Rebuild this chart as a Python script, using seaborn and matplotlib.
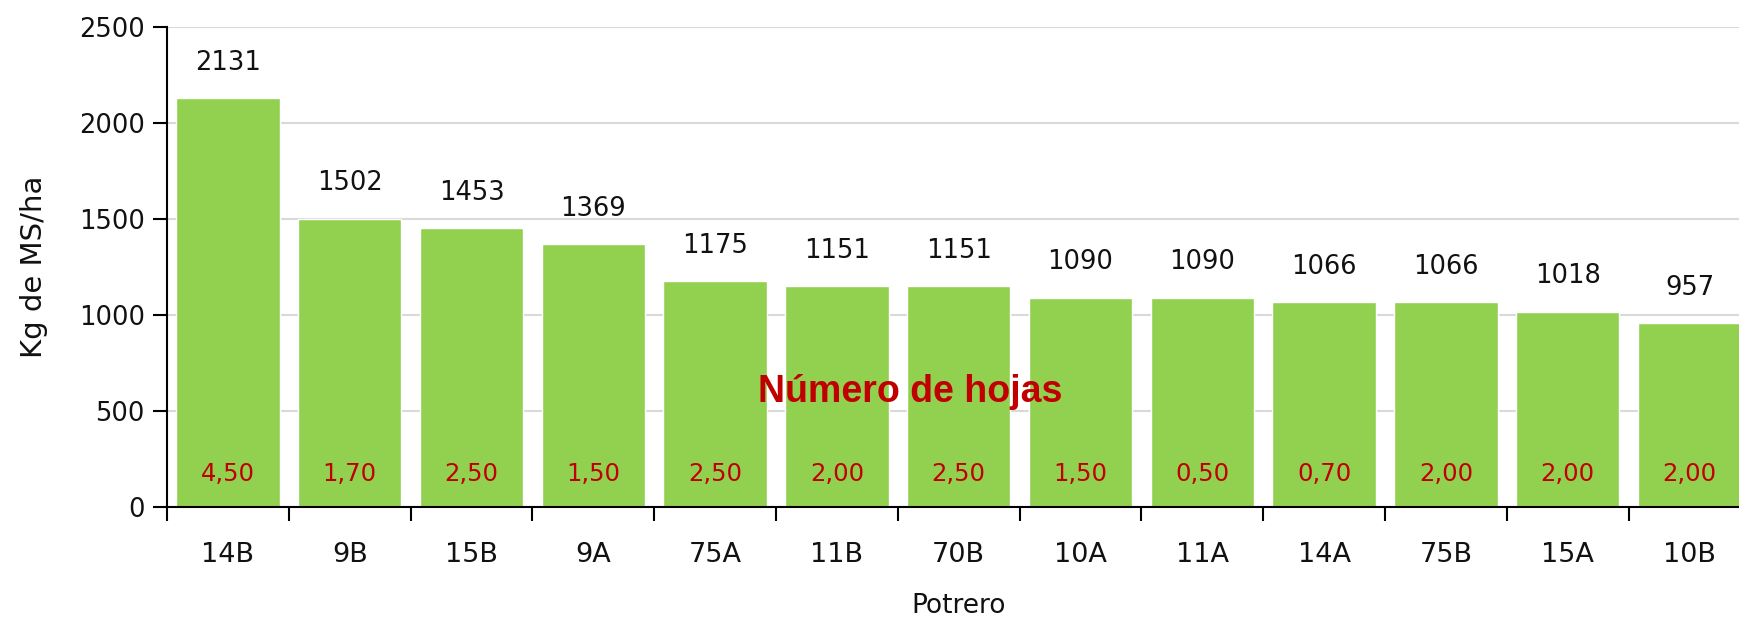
import numpy as np
import pandas as pd
import matplotlib
matplotlib.use("Agg")
import matplotlib.pyplot as plt
import seaborn as sns

potreros = ["14B", "9B", "15B", "9A", "75A", "11B", "70B", "10A", "11A", "14A", "75B", "15A", "10B"]
kg_ms = [2131, 1502, 1453, 1369, 1175, 1151, 1151, 1090, 1090, 1066, 1066, 1018, 957]
hojas = [4.50, 1.70, 2.50, 1.50, 2.50, 2.00, 2.50, 1.50, 0.50, 0.70, 2.00, 2.00, 2.00]

df = pd.DataFrame({"Potrero": potreros, "kg": kg_ms})

sns.set_theme(style="white")
plt.rcParams['font.family'] = ['DejaVu Sans']

fig = plt.figure(figsize=(17.39, 6.17), dpi=100)
ax = fig.add_axes([167 / 1739, 110 / 617, 13 * 121.8 / 1739, 480 / 617])

sns.barplot(data=df, x="Potrero", y="kg", color="#92D050", saturation=1, width=0.85, ax=ax, zorder=2)

ax.set_ylim(0, 2500)
ax.set_xlim(-0.5, len(potreros) - 0.5)
ax.set_yticks(np.arange(0, 2501, 500))
ax.yaxis.grid(True, color="#D9D9D9", linewidth=1.5, zorder=0)
ax.set_axisbelow(True)

for s in ["top", "right"]:
    ax.spines[s].set_visible(False)
for s in ["left", "bottom"]:
    ax.spines[s].set_color("black")
    ax.spines[s].set_linewidth(1.5)

# ticks en los bordes de categoría
ax.set_xticks(np.arange(len(potreros)) - 0.5, minor=True)
ax.tick_params(axis="x", which="major", bottom=False, labelsize=19.5, pad=19, labelcolor="#111111")
ax.tick_params(axis="x", which="minor", bottom=True, length=10, width=1.5, color="black", direction="out")
ax.tick_params(axis="y", length=10, width=1.5, color="black", direction="out", left=True,
               labelsize=18.5, pad=6, labelcolor="#111111")

ax.set_xlabel("Potrero", fontsize=19, labelpad=18, color="#111111")
ax.set_ylabel("Kg de MS/ha", fontsize=21, labelpad=22, color="#111111")

ax.bar_label(ax.containers[0], labels=[str(v) for v in kg_ms], padding=16, fontsize=18.5, color="#111111")

for i, h in enumerate(hojas):
    ax.text(i, 170, f"{h:.2f}".replace(".", ","), ha="center", va="center",
            fontsize=17.5, color="#C00000")

ax.text(5.6, 600, "Número de hojas", ha="center", va="center", fontsize=27,
        fontweight="bold", color="#C00000", family=["Liberation Sans", "DejaVu Sans"])

fig.savefig("out.png", dpi=100)
